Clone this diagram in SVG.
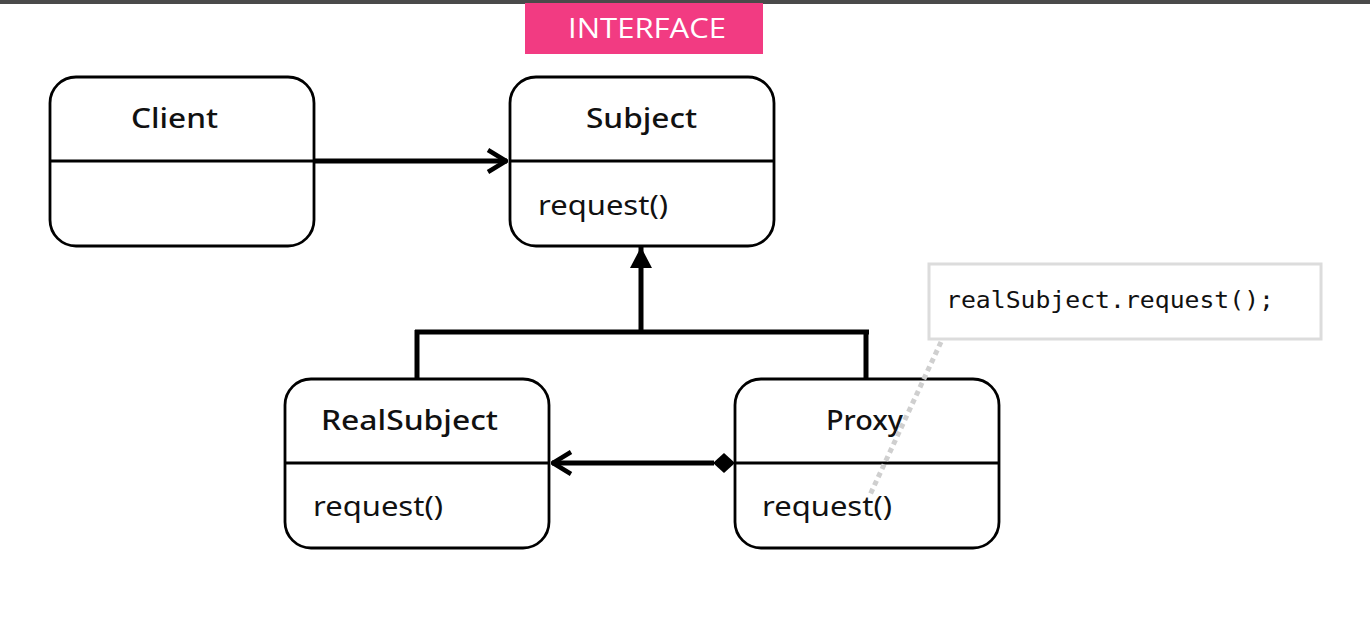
<svg xmlns="http://www.w3.org/2000/svg" width="1370" height="621" viewBox="0 0 1370 621">
<style>
.box{fill:#fff;stroke:#000;stroke-width:2.8}
.div{stroke:#000;stroke-width:2.8}
.title{font-family:"Noto Sans","Open Sans",sans-serif;font-size:27px;font-weight:500;fill:#111}
.op{font-family:"Noto Sans","Open Sans",sans-serif;font-size:27px;font-weight:400;fill:#111}
.conn{stroke:#000;stroke-width:5;fill:none}
</style>
<defs>
<marker id="open" viewBox="0 0 22 26" refX="21" refY="13" markerWidth="22" markerHeight="26" markerUnits="userSpaceOnUse" orient="auto">
<path d="M2,2 L20,13 L2,24" fill="none" stroke="#000" stroke-width="4.5"/>
</marker>
<marker id="tri" viewBox="0 0 21 22" refX="21" refY="11" markerWidth="21" markerHeight="22" markerUnits="userSpaceOnUse" orient="auto">
<path d="M0,0 L21,11 L0,22 Z" fill="#000"/>
</marker>
</defs>
<rect x="0" y="0" width="1370" height="621" fill="#fff"/>
<rect x="0" y="0" width="1370" height="4" fill="#4a4a4a"/>
<g id="interface-label">
<rect x="525" y="3" width="238" height="51" fill="#f23b82"/>
<text x="568" y="38" font-family="Open Sans, Liberation Sans, sans-serif" font-size="28" font-weight="500" fill="#fff" textLength="158" lengthAdjust="spacingAndGlyphs">INTERFACE</text>
</g>
<g id="connectors">
<line class="conn" x1="314" y1="161" x2="507" y2="161" marker-end="url(#open)"/>
<line class="conn" x1="641" y1="332" x2="641" y2="247" marker-end="url(#tri)"/>
<line class="conn" x1="415" y1="332" x2="869" y2="332"/>
<line class="conn" x1="417" y1="330" x2="417" y2="379"/>
<line class="conn" x1="866" y1="330" x2="866" y2="379"/>
<line class="conn" x1="714" y1="463" x2="552" y2="463" marker-end="url(#open)"/>
<path d="M713,463 L724,453 L735,463 L724,473 Z" fill="#000"/>
</g>
<g id="client">
<rect class="box" x="50" y="77" width="264" height="169" rx="26"/>
<line class="div" x1="50" y1="161" x2="314" y2="161"/>
<text class="title" x="131" y="128" textLength="87" lengthAdjust="spacingAndGlyphs">Client</text>
</g>
<g id="subject">
<rect class="box" x="510" y="77" width="264" height="169" rx="26"/>
<line class="div" x1="510" y1="161" x2="774" y2="161"/>
<text class="title" x="586" y="128" textLength="111" lengthAdjust="spacingAndGlyphs">Subject</text>
<text class="op" x="538" y="215" textLength="130" lengthAdjust="spacingAndGlyphs">request()</text>
</g>
<g id="realsubject">
<rect class="box" x="285" y="379" width="264" height="169" rx="26"/>
<line class="div" x1="285" y1="463" x2="549" y2="463"/>
<text class="title" x="321" y="430" textLength="177" lengthAdjust="spacingAndGlyphs">RealSubject</text>
<text class="op" x="313" y="516" textLength="130" lengthAdjust="spacingAndGlyphs">request()</text>
</g>
<g id="proxy">
<rect class="box" x="735" y="379" width="264" height="169" rx="26"/>
<line class="div" x1="735" y1="463" x2="999" y2="463"/>
<text class="title" x="826" y="430" textLength="77" lengthAdjust="spacingAndGlyphs">Proxy</text>
<text class="op" x="762" y="516" textLength="130" lengthAdjust="spacingAndGlyphs">request()</text>
</g>
<g id="note">
<line x1="941" y1="342" x2="869" y2="497" stroke="#cfcfcf" stroke-width="5" stroke-dasharray="5,4"/>
<rect x="929" y="264" width="392" height="75" fill="#fff" stroke="#dcdcdc" stroke-width="3"/>
<text x="946" y="308" font-family="DejaVu Sans Mono, Liberation Mono, monospace" font-size="23" fill="#111" textLength="328" lengthAdjust="spacingAndGlyphs">realSubject.request();</text>
</g>
</svg>
